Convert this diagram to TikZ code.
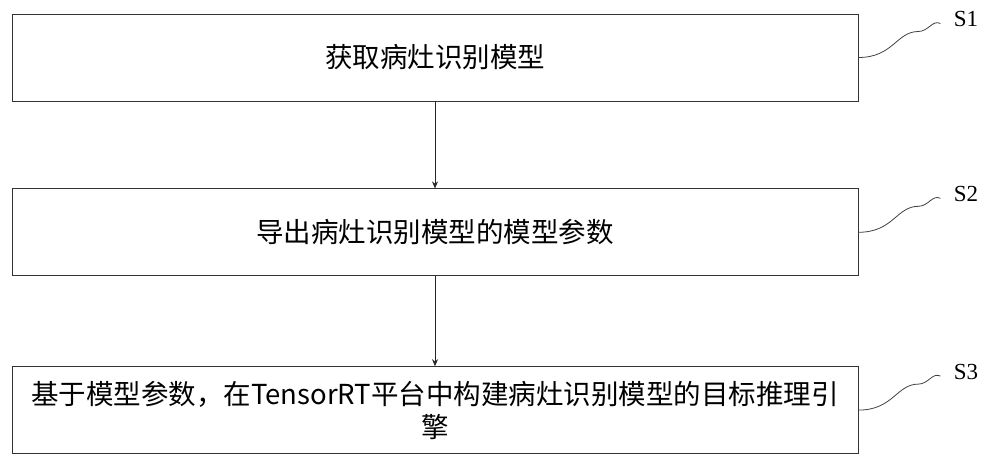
\documentclass[tikz,border=0pt]{standalone}
\usepackage{fontspec}
\setmainfont{Liberation Serif}
\newfontfamily\cjk{Noto Sans CJK SC}
\usetikzlibrary{positioning}
\tikzset{
  stepbox/.style={draw=black!80, thick, minimum width=846pt, minimum height=87pt,
    font=\cjk\fontsize{27.5}{33}\selectfont, align=center, inner sep=1pt},
  flow/.style={-{Stealth[length=7pt, width=6pt]}, thick, black!85},
  tag/.style={font=\fontsize{23}{25}\selectfont}
}
\usetikzlibrary{arrows.meta}
\begin{document}
\begin{tikzpicture}[x=1pt, y=-1pt]
  \useasboundingbox (0,0) rectangle (1000,465);
  % steps
  \node[stepbox] (s1) at (435,57.5) {获取病灶识别模型};
  \node[stepbox, below=87pt of s1] (s2) {导出病灶识别模型的模型参数};
  \node[stepbox, below=90pt of s2] (s3) {基于模型参数，在TensorRT平台中构建病灶识别模型的目标推理引\\擎};
  \draw[flow] (s1) -- (s2);
  \draw[flow] (s2) -- (s3);
  % labels
  \foreach \s/\n in {s1/S1, s2/S2, s3/S3}{
    \coordinate (c\s) at ([xshift=82pt, yshift=34pt]\s.east);
    \draw[thick, black!75] (\s.east) .. controls +(35,0) and +(-22,0) .. ([xshift=-22pt, yshift=-8pt]c\s)
      .. controls +(10,0) and +(-8,-4) .. (c\s);
    \node[tag, right=10pt of c\s, yshift=4pt] (l\s) {\n};
  }
\end{tikzpicture}
\end{document}
